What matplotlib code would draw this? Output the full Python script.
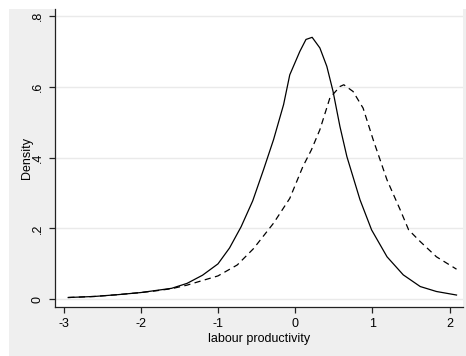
import matplotlib
matplotlib.use("Agg")
import matplotlib.pyplot as plt
from matplotlib.patches import Rectangle

# kernel density estimates of labour productivity, two groups
x_solid = [-2.94, -2.6, -2.3, -2.0, -1.8, -1.6, -1.4, -1.2, -1.0, -0.85, -0.7,
           -0.55, -0.41, -0.28, -0.15, -0.07, 0.06, 0.14, 0.22, 0.32, 0.41,
           0.49, 0.58, 0.67, 0.84, 0.99, 1.19, 1.40, 1.62, 1.83, 2.09]
y_solid = [0.005, 0.008, 0.013, 0.019, 0.025, 0.031, 0.045, 0.068, 0.100,
           0.145, 0.205, 0.278, 0.366, 0.451, 0.55, 0.634, 0.70, 0.734, 0.740,
           0.71, 0.658, 0.588, 0.488, 0.403, 0.281, 0.196, 0.12, 0.069, 0.036,
           0.022, 0.012]

x_dash = [-2.94, -2.6, -2.3, -2.0, -1.8, -1.6, -1.4, -1.17, -1.0, -0.75, -0.54,
          -0.28, -0.07, 0.1, 0.21, 0.32, 0.45, 0.58, 0.63, 0.75, 0.88, 1.01,
          1.19, 1.36, 1.47, 1.62, 1.83, 2.09]
y_dash = [0.005, 0.008, 0.013, 0.019, 0.024, 0.03, 0.04, 0.055, 0.066, 0.097,
          0.143, 0.215, 0.285, 0.375, 0.422, 0.479, 0.569, 0.601, 0.606, 0.587,
          0.540, 0.451, 0.337, 0.253, 0.196, 0.163, 0.12, 0.085]

x_ticks = [-3, -2, -1, 0, 1, 2]
y_ticks = [0, 0.2, 0.4, 0.6, 0.8]
y_ticklabels = ["0", ".2", ".4", ".6", ".8"]

plt.rcParams["font.family"] = ["Liberation Sans", "DejaVu Sans"]
plt.rcParams["axes.unicode_minus"] = False

fig = plt.figure(figsize=(4.66, 3.56), dpi=100)
fig.patch.set_facecolor("white")
# graph region background
fig.patches.append(Rectangle((9 / 466, 0), 1, 1 - 9 / 356,
                             transform=fig.transFigure, facecolor="#efefef",
                             edgecolor="none", zorder=-10))

ax = fig.add_axes([55 / 466, 49 / 356, 408 / 466, 298 / 356])
ax.set_facecolor("white")

ax.plot(x_solid, y_solid, color="black", linewidth=0.9)
ax.plot(x_dash, y_dash, color="black", linewidth=0.9, dashes=(5, 3.5))

ax.set_xlim(-3.111, 2.174)
ax.set_ylim(-0.0218, 0.820)
ax.set_xticks(x_ticks)
ax.set_yticks(y_ticks)
ax.set_yticklabels(y_ticklabels, rotation=90, va="center")
ax.grid(axis="y", color="#eaeaea", linewidth=1)
ax.set_axisbelow(True)

for side in ("top", "right"):
    ax.spines[side].set_visible(False)
for side in ("left", "bottom"):
    ax.spines[side].set_color("#222222")
    ax.spines[side].set_linewidth(0.9)

ax.tick_params(axis="both", length=4, width=0.9, color="#222222",
               labelsize=9, labelcolor="black")
ax.tick_params(axis="y", pad=4)
ax.tick_params(axis="x", pad=4)

ax.set_xlabel("labour productivity", fontsize=9, labelpad=2)
ax.set_ylabel("Density", fontsize=9, labelpad=-1)

fig.savefig("out.png", dpi=100)
